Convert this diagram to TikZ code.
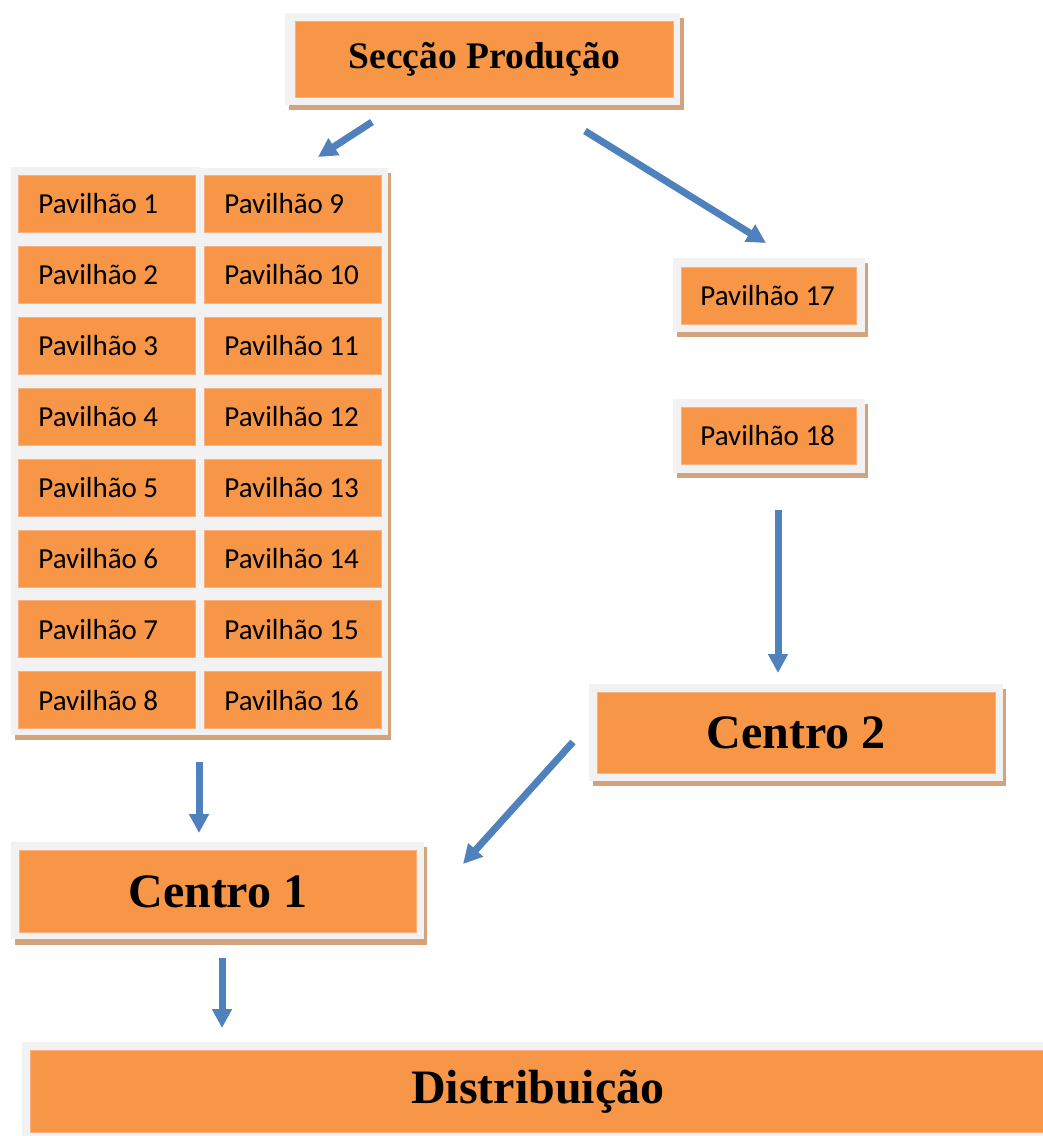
\documentclass[tikz,border=0pt]{standalone}
\usepackage{fontspec}
\setmainfont{Liberation Serif}
\newfontfamily\calibri{Carlito}
\usetikzlibrary{arrows.meta}
\definecolor{orfill}{HTML}{F79646}
\definecolor{oredge}{HTML}{F9B184}
\definecolor{framegray}{HTML}{F2F2F2}
\definecolor{shade}{RGB}{211,163,126}
\definecolor{arrblue}{HTML}{4F81BD}
\newcommand\pvtext[1]{\makebox[137pt][l]{#1}}
\begin{document}
\begin{tikzpicture}[x=1pt,y=-1pt,
  orbox/.style={fill=orfill, draw=oredge, line width=0.8pt, inner sep=0pt, anchor=north west},
  pav/.style={orbox, minimum height=57pt, inner xsep=20pt,
              font=\calibri\fontsize{29}{34}\selectfont},
  bigbox/.style={orbox, font=\bfseries\fontsize{48}{56}\selectfont},
  arr/.style={color=arrblue, line width=7pt, -{Triangle[width=19pt,length=19pt]}},
  shadowfill/.style={fill=shade},
  framefill/.style={fill=framegray}]
\useasboundingbox (0,0) rectangle (1043,1136);
\fill[white] (0,0) rectangle (1043,1136);

% shadows
\fill[shadowfill] (289,18) rectangle (684,110);
\fill[shadowfill] (15,172) rectangle (204,740);
\fill[shadowfill] (201,173) rectangle (391,740);
\fill[shadowfill] (677,263) rectangle (868,337);
\fill[shadowfill] (677,404) rectangle (868,478);
\fill[shadowfill] (593,689) rectangle (1006,786);
\fill[shadowfill] (15,847) rectangle (427,945);
% frames
\fill[framefill] (285,13) rectangle (680,105);
\fill[framefill] (11,167) rectangle (200,735);
\fill[framefill] (197,168) rectangle (388,735);
\fill[framefill] (673,258) rectangle (865,332);
\fill[framefill] (673,399) rectangle (865,473);
\fill[framefill] (589,684) rectangle (1003,781);
\fill[framefill] (11,842) rectangle (424,939);
\fill[framefill] (22,1042) rectangle (1053,1140);

% nodes
\node[orbox, minimum width=378pt, minimum height=76pt,
      font=\bfseries\fontsize{37.5}{44}\selectfont] (sp) at (295,21) {Secção Produção};
\foreach \i in {1,...,8}{
  \node[pav] (p\i) at (18,{175+70.9*(\i-1)}) {\pvtext{Pavilhão \i}};
}
\foreach \i [evaluate=\i as \j using int(\i+8)] in {1,...,8}{
  \node[pav] (p\j) at (204,{175+70.9*(\i-1)}) {\pvtext{Pavilhão \j}};
}
\node[pav, inner xsep=19pt] (p17) at (681,267) {\pvtext{Pavilhão 17}};
\node[pav, inner xsep=19pt] (p18) at (681,407) {\pvtext{Pavilhão 18}};
\node[bigbox, minimum width=398pt, minimum height=81pt] (c2) at (597,692) {Centro 2};
\node[bigbox, minimum width=397pt, minimum height=82pt] (c1) at (19,850) {Centro 1};
\node[bigbox, minimum width=1015pt, minimum height=82pt] (dist) at (30,1050) {Distribuição};

% arrow end points
\coordinate (a1s) at (372,122); \coordinate (a1e) at (318,157);
\coordinate (a2s) at (585,131); \coordinate (a2e) at (766,243);
\coordinate (a3s) at (778,510); \coordinate (a3e) at (778,673);
\coordinate (a4s) at (573,742); \coordinate (a4e) at (463,864);
\coordinate (a5s) at (199,762); \coordinate (a5e) at (199,833);
\coordinate (a6s) at (222,958); \coordinate (a6e) at (222,1028);
\draw[arr] (a1s) -- (a1e);
\draw[arr] (a2s) -- (a2e);
\draw[arr] (a3s) -- (a3e);
\draw[arr] (a4s) -- (a4e);
\draw[arr] (a5s) -- (a5e);
\draw[arr] (a6s) -- (a6e);
\end{tikzpicture}
\end{document}
